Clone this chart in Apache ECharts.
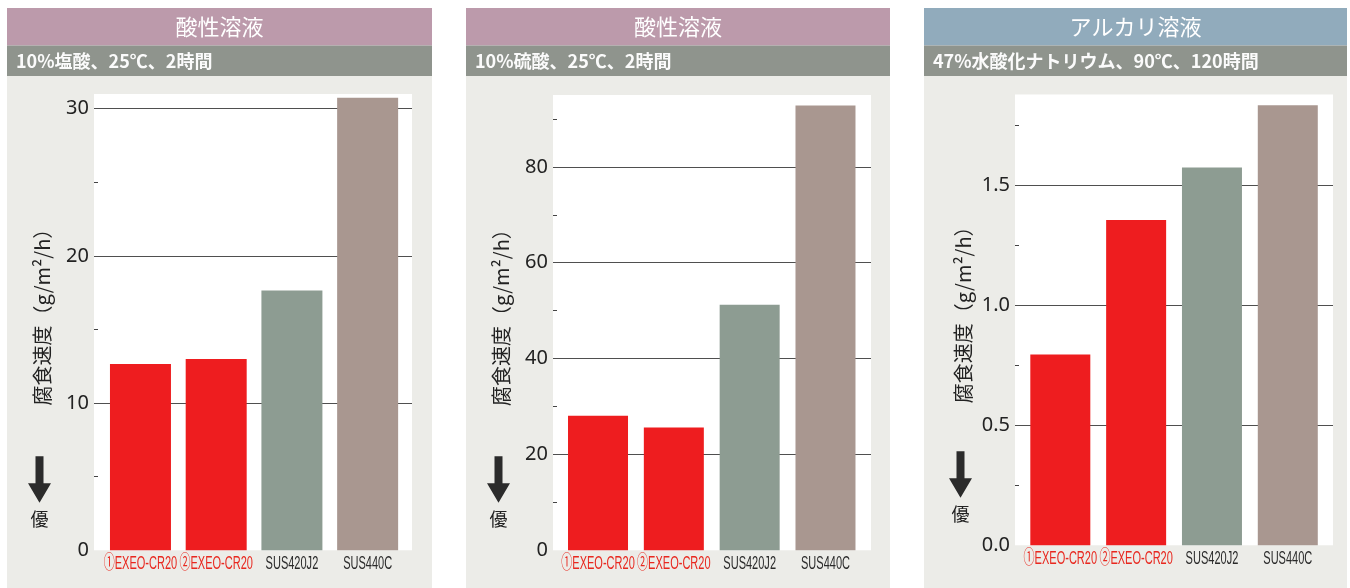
<!DOCTYPE html>
<html>
<head>
<meta charset="utf-8">
<script src="https://cdn.jsdelivr.net/npm/echarts@6/dist/echarts.min.js"></script>
<style>
html,body{margin:0;padding:0;background:#ffffff;}
#c{width:1350px;height:588px;}
</style>
</head>
<body>
<div id="c"></div>
<script>
// ---------- data ----------
const categories = ['①EXEO-CR20', '②EXEO-CR20', 'SUS420J2', 'SUS440C'];
const panelTitles = ['酸性溶液', '酸性溶液', 'アルカリ溶液'];
const panelSubtitles = ['10%塩酸、25℃、2時間', '10%硫酸、25℃、2時間', '47%水酸化ナトリウム、90℃、120時間'];
const yAxisName = '腐食速度（g/m²/h）';
const betterText = '優';

const hclValues = [12.65, 13.0, 17.65, 30.75];
const h2so4Values = [28.1, 25.6, 51.25, 92.8];
const naohValues = [0.795, 1.357, 1.575, 1.835];

// axis scales and tick labels
const axisMax = [31, 95, 1.88];
const axisInterval = [10, 20, 0.5];
const axisDecimals = [0, 0, 1];
const hclMinorTicks = [5, 15, 25];
const h2so4MinorTicks = [10, 30, 50, 70, 90];
const naohMinorTicks = [0.25, 0.75, 1.25, 1.75];

// ---------- styles / layout ----------
const seriesValues = [hclValues, h2so4Values, naohValues];
const minorTicks = [hclMinorTicks, h2so4MinorTicks, naohMinorTicks];
const barColors = ['#ee1d1f', '#ee1d1f', '#8d9c92', '#a99790'];
const labelColors = ['#e8281f', '#e8281f', '#2a2a2a', '#2a2a2a'];
const titleBarColors = ['#bc9aab', '#bc9aab', '#91abbc'];
const subBarColor = '#8f948d';
const panelBg = '#ececE8';

const FONT_CJK = '"Noto Sans CJK JP", "Noto Sans", sans-serif';
const FONT_NUM = '"Noto Sans", "Open Sans", sans-serif';
const FONT_CAT = '"Liberation Sans", Arial, "Noto Sans CJK JP", sans-serif';

const layout = [
  {x: 7,   w: 425, plotL: 94,   plotR: 412,  top: 94,   zero: 550.3, bandL: 102.6,  bandR: 405.5,  barW: 61},
  {x: 466, w: 424, plotL: 553,  plotR: 871,  top: 95,   zero: 550.3, bandL: 560.1,  bandR: 863.4,  barW: 60},
  {x: 924, w: 423, plotL: 1015, plotR: 1333, top: 94.5, zero: 545.2, bandL: 1022.4, bandR: 1325.7, barW: 60}
];

const T = 'rgba(0,0,0,0)';
const D = '#4f4f4f';

const grid = [], xAxis = [], yAxis = [], series = [], title = [], graphics = [];

layout.forEach((p, i) => {
  const max = axisMax[i], itv = axisInterval[i], dec = axisDecimals[i];
  const n = Math.floor(max / itv + 1e-9);
  const splitColors = [T];
  for (let k = 1; k <= n; k++) splitColors.push(D);
  if (max > n * itv + 1e-9) splitColors.push(T);

  grid.push({
    left: p.plotL, top: p.top, width: p.plotR - p.plotL, height: p.zero - p.top,
    show: true, backgroundColor: '#ffffff', borderWidth: 0, containLabel: false, outerBoundsMode: 'none'
  });
  grid.push({
    left: p.bandL, top: p.top, width: p.bandR - p.bandL, height: p.zero - p.top,
    show: false, containLabel: false, outerBoundsMode: 'none'
  });

  xAxis.push({gridIndex: 2 * i, type: 'value', min: 0, max: 1, show: false});
  xAxis.push({
    gridIndex: 2 * i + 1, type: 'category', data: categories,
    axisLine: {show: false}, axisTick: {show: false}, splitLine: {show: false},
    axisLabel: {show: false}
  });

  yAxis.push({
    gridIndex: 2 * i, type: 'value', position: 'left', min: 0, max: max, interval: itv,
    axisLine: {show: false}, axisTick: {show: false},
    axisLabel: {
      margin: 5, fontSize: 20, color: '#222', fontFamily: FONT_NUM,
      formatter: v => { const k = v / itv; return Math.abs(k - Math.round(k)) < 1e-6 ? v.toFixed(dec) : ''; }
    },
    splitLine: {show: true, lineStyle: {color: splitColors, width: 1}},
    name: yAxisName, nameLocation: 'middle', nameGap: 42,
    nameTextStyle: {fontSize: 20, color: '#222', fontFamily: FONT_CJK, padding: [0, 0, 0, 20]}
  });
  yAxis.push({
    gridIndex: 2 * i, type: 'value', position: 'left', offset: 0, min: 0, max: max,
    axisLine: {show: false}, axisLabel: {show: false}, splitLine: {show: false},
    axisTick: {show: true, inside: true, length: 4, customValues: minorTicks[i], lineStyle: {color: '#444', width: 1}}
  });
  yAxis.push({gridIndex: 2 * i + 1, type: 'value', min: 0, max: max, show: false, splitLine: {show: false}});

  series.push({
    type: 'bar', xAxisIndex: 2 * i + 1, yAxisIndex: 3 * i + 2, barWidth: p.barW, silent: true,
    data: seriesValues[i].map((v, j) => ({value: v, itemStyle: {color: barColors[j]}}))
  });
  // condensed category labels under each bar, placed through the category axis
  series.push({
    type: 'custom', xAxisIndex: 2 * i + 1, yAxisIndex: 3 * i + 2, silent: true, clip: false,
    data: categories.map((c, j) => [j, 0]),
    renderItem: (params, api) => {
      const pt = api.coord([api.value(0), api.value(1)]);
      const j = params.dataIndex;
      return {
        type: 'text', x: pt[0], y: pt[1] + 13.5, scaleX: 0.58,
        style: {text: categories[j], fill: labelColors[j], font: '19px ' + FONT_CAT, align: 'center', verticalAlign: 'middle'}
      };
    }
  });

  title.push({
    text: panelTitles[i], left: p.x + p.w / 2, top: 26.5, padding: 0,
    textAlign: 'center', textVerticalAlign: 'middle',
    textStyle: {color: '#ffffff', fontSize: 22, fontWeight: 'normal', fontFamily: FONT_CJK}
  });
  title.push({
    text: panelSubtitles[i], left: p.x + 9, top: 61, padding: 0,
    textAlign: 'left', textVerticalAlign: 'middle',
    textStyle: {color: '#fbfbfb', fontSize: 18, fontWeight: 'bold', fontFamily: FONT_CJK}
  });

  graphics.push({type: 'rect', z: -5, shape: {x: p.x, y: 76, width: p.w, height: 520}, style: {fill: panelBg}});
  graphics.push({type: 'rect', z: -5, shape: {x: p.x, y: 8, width: p.w, height: 37.5}, style: {fill: titleBarColors[i]}});
  graphics.push({type: 'rect', z: -5, shape: {x: p.x, y: 45.5, width: p.w, height: 30.5}, style: {fill: subBarColor}});

  const cx = p.plotL - 54.5, z0 = p.zero;
  graphics.push({
    type: 'polygon', z: 10,
    shape: {points: [[cx - 4, z0 - 94], [cx + 4, z0 - 94], [cx + 4, z0 - 67], [cx + 11.5, z0 - 67],
                     [cx, z0 - 47.5], [cx - 11.5, z0 - 67], [cx - 4, z0 - 67]]},
    style: {fill: '#2b2b2b'}
  });
  graphics.push({
    type: 'text', z: 10, x: cx, y: z0 - 31,
    style: {text: betterText, fill: '#222', font: '18px ' + FONT_CJK, align: 'center', verticalAlign: 'middle'}
  });
});

const chart = echarts.init(document.getElementById('c'), null, {renderer: 'canvas'});
chart.setOption({
  animation: false,
  backgroundColor: '#ffffff',
  title: title,
  grid: grid,
  xAxis: xAxis,
  yAxis: yAxis,
  series: series,
  graphic: {elements: graphics}
});
</script>
</body>
</html>
